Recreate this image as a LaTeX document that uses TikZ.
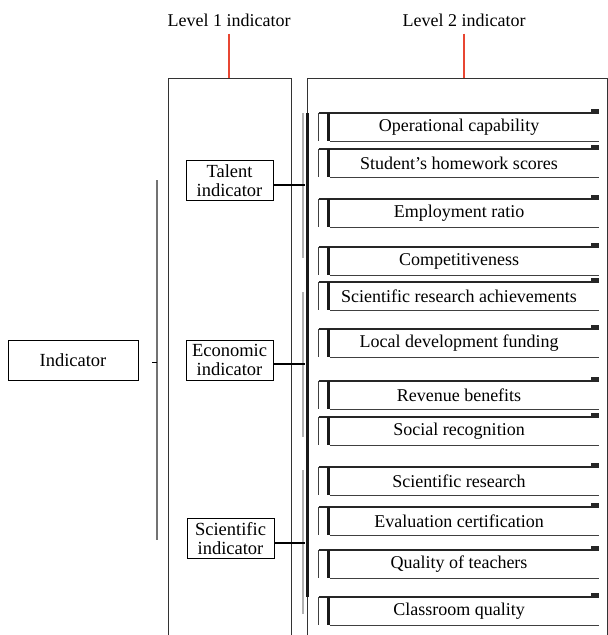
\documentclass[tikz,border=0pt]{standalone}
\usepackage{fontspec}
\setmainfont{Liberation Serif}
\definecolor{redtick}{RGB}{232,70,50}
\begin{document}
\begin{tikzpicture}[x=1pt,y=-1pt,
  every node/.style={inner sep=0pt},
  title/.style={font=\fontsize{18}{20}\selectfont},
  redline/.style={draw=redtick, line width=1.1pt},
  panel/.style={draw=black!80, line width=1pt},
  lonebox/.style={draw, line width=0.8pt, align=center, font=\fontsize{18.5}{19}\selectfont, minimum width=87pt, minimum height=40pt},
  itembox/.style={minimum width=280pt, minimum height=28pt, font=\fontsize{18}{20}\selectfont},
  topline/.style={draw=black!85, line width=1.5pt},
  botline/.style={draw=black!75, line width=1pt},
  thinside/.style={draw=black!75, line width=1.1pt},
  thickside/.style={draw=black!90, line width=3pt},
  grpbrace/.style={draw=black!30, line width=2.2pt},
  mainbrace/.style={draw=black!55, line width=2.6pt},
  conn/.style={draw=black, line width=1.2pt}
]
\useasboundingbox (0,0) rectangle (608,635);
\clip (0,0) rectangle (608,635);

% titles and panels
\node[title] (l1t) at (229,20) {Level 1 indicator};
\node[title] (l2t) at (464,20) {Level 2 indicator};
\node[panel, minimum width=123pt, minimum height=580pt, anchor=north west] (l1box) at (168,78) {};
\node[panel, minimum width=300pt, minimum height=580pt, anchor=north west] (l2box) at (307,78) {};
\draw[redline] ([yshift=-7pt]l1t.south) -- (l1t.south |- l1box.north);
\draw[redline] ([yshift=-7pt]l2t.south) -- (l2t.south |- l2box.north);
\coordinate (ts) at (307.5,113);
\coordinate (te) at (307.5,597);
\draw[thickside] (ts) -- (te);

% left boxes
\node[lonebox, minimum width=130pt] (ind) at (73,360) {Indicator};
\node[lonebox] (tal) at (229.5,180.5) {Talent\\indicator};
\node[lonebox] (eco) at (229.5,360) {Economic\\indicator};
\node[lonebox] (sci) at (230.5,538.5) {Scientific\\indicator};

% main brace
\coordinate (mb1) at (157,180);
\coordinate (mb2) at (157,540);
\coordinate (mbt) at (157,362);
\draw[mainbrace] (mb1) -- (mb2);
\draw[conn, line width=1pt] (mbt) -- ++(-5,0);

% group braces
\coordinate (g1a) at (303,113); \coordinate (g1b) at (303,258); \coordinate (gb1) at (305,185);
\coordinate (g2a) at (303,292); \coordinate (g2b) at (303,437); \coordinate (gb2) at (305,364);
\coordinate (g3a) at (303,470); \coordinate (g3b) at (303,614); \coordinate (gb3) at (305,543);
\draw[grpbrace] (g1a) -- (g1b);
\draw[grpbrace] (g2a) -- (g2b);
\draw[grpbrace] (g3a) -- (g3b);
\draw[conn] (tal.east |- gb1) -- (gb1);
\draw[conn] (eco.east |- gb2) -- (gb2);
\draw[conn] (sci.east |- gb3) -- (gb3);

% level 2 items
\foreach \n/\t/\b/\s in {
  i1/113/141/{Operational capability},
  i2/149/177/{Student’s homework scores},
  i3/199/227/{Employment ratio},
  i4/247/275/{Competitiveness},
  i5/282/310/{Scientific research achievements},
  i6/329/357/{Local development funding},
  i7/381/409/{Revenue benefits},
  i8/417/445/{Social recognition},
  i9/467/495/{Scientific research},
  i10/507/535/{Evaluation certification},
  i11/550/578/{Quality of teachers},
  i12/597/625/{Classroom quality}} {
  \node[itembox] (\n) at (459,{(\t+\b)/2}) {\s};
  \draw[topline] (\n.north west) -- ([xshift=-4pt]\n.north east);
  \fill[black!85] ([xshift=-8pt,yshift=-1pt]\n.north east) rectangle ([yshift=3.5pt]\n.north east);
  \draw[botline] ([xshift=11pt]\n.south west) -- (\n.south east);
  \draw[thinside] (\n.north west) -- (\n.south west);
  \draw[thickside] ([xshift=9.5pt]\n.north west) -- ([xshift=9.5pt]\n.south west);
}
\end{tikzpicture}
\end{document}
